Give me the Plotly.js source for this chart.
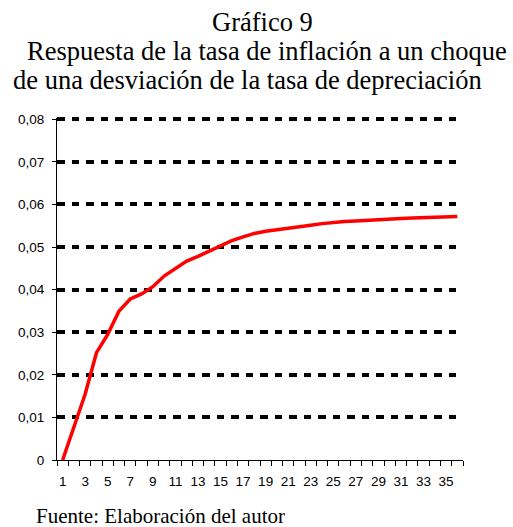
<!DOCTYPE html>
<html>
<head>
<meta charset="utf-8">
<script src="https://cdn.plot.ly/plotly-3.0.1.min.js"></script>
<style>
  html, body { margin: 0; padding: 0; background: #fff; }
  #chart { width: 513px; height: 527px; }
</style>
</head>
<body>
<div id="chart"></div>
<script>
// Periods (categories)
var periods = [1,2,3,4,5,6,7,8,9,10,11,12,13,14,15,16,17,18,19,20,21,22,23,24,25,26,27,28,29,30,31,32,33,34,35,36];
// Response of the inflation rate
var response = [0.0, 0.0075, 0.0155, 0.0252, 0.0295, 0.0350, 0.0378, 0.0390, 0.0407, 0.0432, 0.0450, 0.0467, 0.0478, 0.0490, 0.0502, 0.0515, 0.0524, 0.0532, 0.0537, 0.0540, 0.0543, 0.0547, 0.0551, 0.0555, 0.0558, 0.0560, 0.0561, 0.0563, 0.0564, 0.0566, 0.0567, 0.0568, 0.0569, 0.0570, 0.0571, 0.0572];
// X tick labels (every other period)
var xTickVals = [1,3,5,7,9,11,13,15,17,19,21,23,25,27,29,31,33,35];
var xTickText = ['1','3','5','7','9','11','13','15','17','19','21','23','25','27','29','31','33','35'];
// Y tick values and labels
var yTickVals = [0, 0.01, 0.02, 0.03, 0.04, 0.05, 0.06, 0.07, 0.08];
var yTickText = ['0','0,01','0,02','0,03','0,04','0,05','0,06','0,07','0,08'];
// Texts
var titleLine1 = 'Gráfico 9';
var titleLine2 = 'Respuesta de la tasa de inflación a un choque';
var titleLine3 = 'de una desviación de la tasa de depreciación';
var sourceText = 'Fuente: Elaboración del autor';

var serif = 'Liberation Serif, Times New Roman, serif';
var sans = 'Liberation Sans, Arial, sans-serif';

var trace = {
  type: 'scatter',
  mode: 'lines',
  x: periods,
  y: response,
  line: { color: '#FF0000', width: 3.5 },
  hoverinfo: 'skip'
};

var layout = {
  width: 513,
  height: 527,
  margin: { l: 57, r: 50, t: 118, b: 67, pad: 0 },
  paper_bgcolor: '#ffffff',
  plot_bgcolor: '#ffffff',
  showlegend: false,
  font: { family: sans, size: 13, color: '#000' },
  xaxis: {
    type: 'linear',
    range: [0.5, 36.5],
    tickmode: 'array',
    tickvals: xTickVals,
    ticktext: xTickText,
    ticks: 'outside',
    ticklen: 5,
    tickcolor: 'rgba(0,0,0,0)',
    minor: { tick0: 0.5, dtick: 1, ticks: 'outside', ticklen: 5, tickwidth: 1, tickcolor: '#000', showgrid: false },
    showline: true,
    linecolor: '#000',
    linewidth: 1,
    showgrid: false,
    zeroline: false,
    tickfont: { family: sans, size: 13.5, color: '#000' },
    ticklabelstandoff: 4,
    fixedrange: true
  },
  yaxis: {
    range: [0, 0.0803],
    tickmode: 'array',
    tickvals: yTickVals,
    ticktext: yTickText,
    ticks: 'outside',
    ticklen: 4,
    tickwidth: 1,
    tickcolor: '#000',
    showline: true,
    linecolor: '#000',
    linewidth: 1,
    showgrid: true,
    gridcolor: '#000',
    gridwidth: 4,
    griddash: '7.5px,7px',
    zeroline: false,
    tickfont: { family: sans, size: 13.5, color: '#000' },
    ticklabelstandoff: 5,
    fixedrange: true
  },
  annotations: [
    { text: titleLine1, xref: 'paper', yref: 'paper', x: (262.5 - 57) / 406, y: (460 - 22) / 342, xanchor: 'center', yanchor: 'middle', showarrow: false, font: { family: serif, size: 26.5, color: '#000' } },
    { text: titleLine2, xref: 'paper', yref: 'paper', x: (25 - 57) / 406, y: (460 - 51) / 342, xanchor: 'left', yanchor: 'middle', showarrow: false, font: { family: serif, size: 26.5, color: '#000' } },
    { text: titleLine3, xref: 'paper', yref: 'paper', x: (11 - 57) / 406, y: (460 - 80) / 342, xanchor: 'left', yanchor: 'middle', showarrow: false, font: { family: serif, size: 26.5, color: '#000' } },
    { text: sourceText, xref: 'paper', yref: 'paper', x: (34 - 57) / 406, y: (460 - 516) / 342, xanchor: 'left', yanchor: 'middle', showarrow: false, font: { family: serif, size: 21, color: '#000' } }
  ]
};

Plotly.newPlot('chart', [trace], layout, { displayModeBar: false, staticPlot: true });
</script>
</body>
</html>
